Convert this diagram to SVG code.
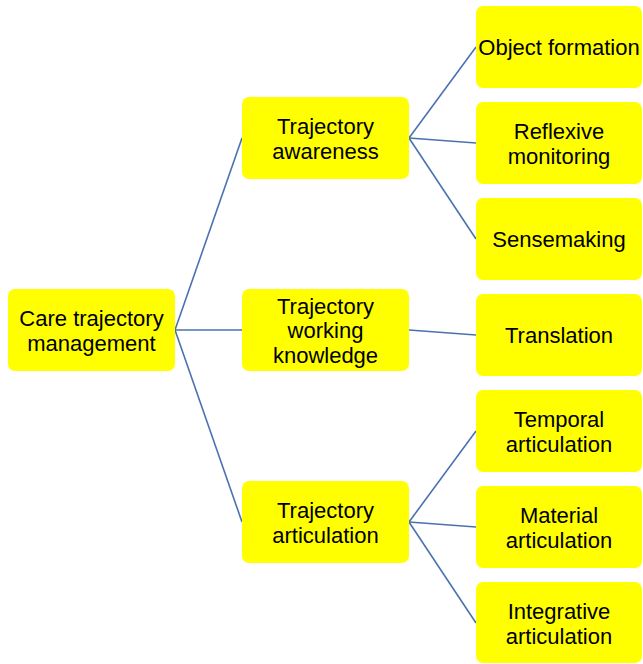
<svg xmlns="http://www.w3.org/2000/svg" width="643" height="664" viewBox="0 0 643 664">
<style>
.box{fill:#FFFF00;}
.t{font-family:"Liberation Sans",Arial,sans-serif;font-size:22px;fill:#000;text-anchor:middle;}
.c{stroke:#4A72B0;stroke-width:1.6;fill:none;}
</style>
<rect width="643" height="664" fill="#fff"/>
<g id="connectors">
<line class="c" x1="175" y1="330" x2="242" y2="138"/>
<line class="c" x1="175" y1="330" x2="242" y2="330"/>
<line class="c" x1="175" y1="330" x2="242" y2="522"/>
<line class="c" x1="409" y1="138" x2="476" y2="47"/>
<line class="c" x1="409" y1="138" x2="476" y2="143"/>
<line class="c" x1="409" y1="138" x2="476" y2="239"/>
<line class="c" x1="409" y1="330" x2="476" y2="335"/>
<line class="c" x1="409" y1="522" x2="476" y2="431"/>
<line class="c" x1="409" y1="522" x2="476" y2="527"/>
<line class="c" x1="409" y1="522" x2="476" y2="623"/>
</g>
<g id="root">
<rect class="box" x="8" y="289" width="167" height="82" rx="7"/>
<text class="t" x="91.5" y="326">Care trajectory</text>
<text class="t" x="91.5" y="350.5">management</text>
</g>
<g id="awareness">
<rect class="box" x="242" y="97" width="167" height="82" rx="7"/>
<text class="t" x="325.5" y="134">Trajectory</text>
<text class="t" x="325.5" y="159">awareness</text>
</g>
<g id="working">
<rect class="box" x="242" y="289" width="167" height="82" rx="7"/>
<text class="t" x="325.5" y="313.5">Trajectory</text>
<text class="t" x="325.5" y="338">working</text>
<text class="t" x="325.5" y="362.5">knowledge</text>
</g>
<g id="articulation">
<rect class="box" x="242" y="481" width="167" height="82" rx="7"/>
<text class="t" x="325.5" y="518">Trajectory</text>
<text class="t" x="325.5" y="543">articulation</text>
</g>
<g id="object">
<rect class="box" x="476" y="6" width="166" height="82" rx="7"/>
<text class="t" x="559" y="55">Object formation</text>
</g>
<g id="reflexive">
<rect class="box" x="476" y="102" width="166" height="82" rx="7"/>
<text class="t" x="559" y="139">Reflexive</text>
<text class="t" x="559" y="164">monitoring</text>
</g>
<g id="sensemaking">
<rect class="box" x="476" y="198" width="166" height="82" rx="7"/>
<text class="t" x="559" y="247">Sensemaking</text>
</g>
<g id="translation">
<rect class="box" x="476" y="294" width="166" height="82" rx="7"/>
<text class="t" x="559" y="343">Translation</text>
</g>
<g id="temporal">
<rect class="box" x="476" y="390" width="166" height="82" rx="7"/>
<text class="t" x="559" y="427">Temporal</text>
<text class="t" x="559" y="452">articulation</text>
</g>
<g id="material">
<rect class="box" x="476" y="486" width="166" height="82" rx="7"/>
<text class="t" x="559" y="523">Material</text>
<text class="t" x="559" y="548">articulation</text>
</g>
<g id="integrative">
<rect class="box" x="476" y="582" width="166" height="81" rx="7"/>
<text class="t" x="559" y="619">Integrative</text>
<text class="t" x="559" y="644">articulation</text>
</g>
</svg>
